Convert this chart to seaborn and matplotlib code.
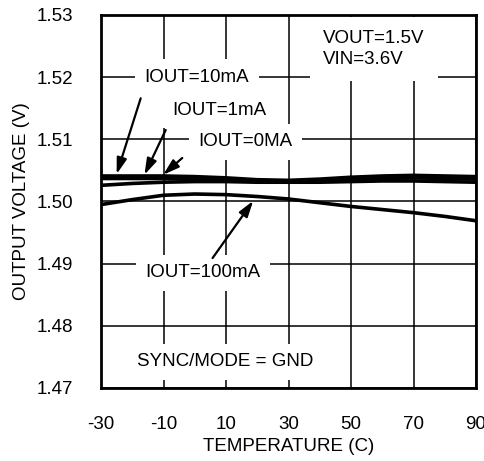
"""Output voltage vs temperature, VOUT=1.5V, VIN=3.6V."""

import matplotlib

matplotlib.use("Agg")
import matplotlib.pyplot as plt
import pandas as pd
import seaborn as sns

sns.set_theme(style="white")
plt.rcParams["font.family"] = ["Liberation Sans", "DejaVu Sans"]

TEMP = [-30, -20, -10, 0, 10, 20, 30, 40, 50, 60, 70, 80, 90]
V_10MA = [1.5041, 1.5041, 1.5041, 1.5040, 1.5038, 1.5035, 1.5034,
          1.5036, 1.5039, 1.5041, 1.5042, 1.5041, 1.5040]
V_1MA = [1.5037, 1.5037, 1.5037, 1.5036, 1.5034, 1.5032, 1.5032,
         1.5033, 1.5035, 1.5037, 1.5038, 1.5037, 1.5036]
V_0MA = [1.5026, 1.5029, 1.5031, 1.5032, 1.5032, 1.5031, 1.5031,
         1.5031, 1.5032, 1.5033, 1.5033, 1.5032, 1.5031]
V_100MA = [1.4995, 1.5003, 1.5010, 1.5012, 1.5011, 1.5008, 1.5004,
           1.4998, 1.4992, 1.4987, 1.4982, 1.4976, 1.4969]
SERIES = {"IOUT=10mA": V_10MA, "IOUT=1mA": V_1MA,
          "IOUT=0MA": V_0MA, "IOUT=100mA": V_100MA}

X_TICKS = [-30, -10, 10, 30, 50, 70, 90]
Y_TICKS = [1.47, 1.48, 1.49, 1.50, 1.51, 1.52, 1.53]

df = pd.concat([pd.DataFrame({"temp": TEMP, "vout": v, "series": k})
                for k, v in SERIES.items()], ignore_index=True)

fig = plt.figure(figsize=(4.84, 4.61), dpi=100)
ax = fig.add_axes([0.2087, 0.1584, 0.7748, 0.8091])

sns.lineplot(data=df, x="temp", y="vout", hue="series",
             palette=["black"] * 4, linewidth=2.6, legend=False, ax=ax)

ax.set_xlim(-30, 90)
ax.set_ylim(1.47, 1.53)
ax.set_xticks(X_TICKS)
ax.set_yticks(Y_TICKS)
ax.set_xticklabels([str(t) for t in X_TICKS])
ax.set_yticklabels([f"{t:.2f}" for t in Y_TICKS])
ax.grid(True, color="black", linewidth=1.1)
ax.set_axisbelow(True)
for s in ax.spines.values():
    s.set_color("black")
    s.set_linewidth(2)
ax.tick_params(length=0, pad=20, labelsize=13.5, colors="black")

ax.set_xlabel("TEMPERATURE (C)", fontsize=13.5, color="black")
ax.set_ylabel("OUTPUT VOLTAGE (V)", fontsize=13.5, color="black")
ax.xaxis.set_label_coords(0.5, -0.135)
ax.yaxis.set_label_coords(-0.19, 0.5)

box = dict(fc="white", ec="none", boxstyle="square,pad=0.5")
kw = dict(fontsize=13.5, color="black", ha="center", va="center",
          bbox=box, zorder=4)
ax.text(0.7, 1.5200, "IOUT=10mA", **kw)
ax.text(7.9, 1.5147, "IOUT=1mA", **kw)
ax.text(16.2, 1.5096, "IOUT=0MA", **kw)
ax.text(2.5, 1.4885, "IOUT=100mA", **kw)
ax.text(9.7, 1.4742, "SYNC/MODE = GND", **kw)
ax.text(41.0, 1.5245, "VOUT=1.5V\nVIN=3.6V", fontsize=13.5, color="black",
        ha="left", va="center", linespacing=1.3, zorder=4,
        bbox=dict(fc="white", ec="none", boxstyle="square,pad=0.7"))

arrows = [((-17.3, 1.5166), (-25.0, 1.5044)),
          ((-9.3, 1.5115), (-16.1, 1.5043)),
          ((-4.0, 1.5070), (-10.1, 1.5043)),
          ((5.7, 1.4909), (18.7, 1.5001))]
for tail, head in arrows:
    ax.annotate("", xy=head, xytext=tail, zorder=5,
                arrowprops=dict(arrowstyle="-|>,head_length=0.8,head_width=0.25",
                                color="black", lw=1.6, shrinkA=0, shrinkB=0))

fig.savefig("out.png", dpi=100)
